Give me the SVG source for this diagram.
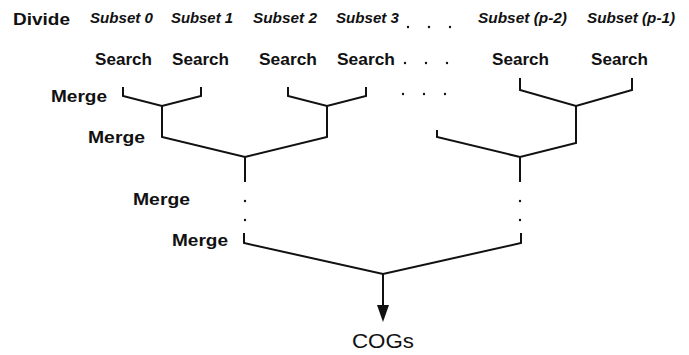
<svg xmlns="http://www.w3.org/2000/svg" width="689" height="355" viewBox="0 0 689 355">
<style>
.lbl{font-family:"Liberation Sans",Arial,sans-serif;font-weight:bold;fill:#111}
.big{font-size:16.5px}
.sub{font-size:14px;font-style:italic}
.cog{font-family:"Liberation Sans",Arial,sans-serif;font-size:21px;fill:#111}
.ln{fill:none;stroke:#111;stroke-width:2;stroke-linejoin:miter}
.dot{fill:#111}
</style>
<defs>
<marker id="arr" viewBox="0 0 17 12" refX="0" refY="6" markerWidth="17" markerHeight="12" markerUnits="userSpaceOnUse" orient="auto">
<path d="M0,0 L17,6 L0,12 Z" fill="#111"/>
</marker>
</defs>
<rect width="689" height="355" fill="#fff"/>
<g id="divide"><text class="lbl big" x="13" y="25" textLength="57" lengthAdjust="spacingAndGlyphs">Divide</text></g>
<g id="subset0"><text class="lbl sub" x="90" y="23" textLength="63" lengthAdjust="spacingAndGlyphs">Subset 0</text></g>
<g id="subset1"><text class="lbl sub" x="171" y="23" textLength="62" lengthAdjust="spacingAndGlyphs">Subset 1</text></g>
<g id="subset2"><text class="lbl sub" x="253" y="23" textLength="64" lengthAdjust="spacingAndGlyphs">Subset 2</text></g>
<g id="subset3"><text class="lbl sub" x="336" y="23" textLength="63" lengthAdjust="spacingAndGlyphs">Subset 3</text></g>
<g id="subsetp2"><text class="lbl sub" x="478" y="23" textLength="89" lengthAdjust="spacingAndGlyphs">Subset (p-2)</text></g>
<g id="subsetp1"><text class="lbl sub" x="587" y="23" textLength="88" lengthAdjust="spacingAndGlyphs">Subset (p-1)</text></g>
<g id="search0"><text class="lbl big" x="95" y="65" textLength="57" lengthAdjust="spacingAndGlyphs">Search</text></g>
<g id="search1"><text class="lbl big" x="172" y="65" textLength="57" lengthAdjust="spacingAndGlyphs">Search</text></g>
<g id="search2"><text class="lbl big" x="259" y="65" textLength="58" lengthAdjust="spacingAndGlyphs">Search</text></g>
<g id="search3"><text class="lbl big" x="337" y="65" textLength="58" lengthAdjust="spacingAndGlyphs">Search</text></g>
<g id="search4"><text class="lbl big" x="492" y="65" textLength="57" lengthAdjust="spacingAndGlyphs">Search</text></g>
<g id="search5"><text class="lbl big" x="591" y="65" textLength="57" lengthAdjust="spacingAndGlyphs">Search</text></g>
<g id="merge1"><text class="lbl big" x="51" y="102" textLength="56" lengthAdjust="spacingAndGlyphs">Merge</text></g>
<g id="merge2"><text class="lbl big" x="88" y="143" textLength="57" lengthAdjust="spacingAndGlyphs">Merge</text></g>
<g id="merge3"><text class="lbl big" x="133" y="205" textLength="57" lengthAdjust="spacingAndGlyphs">Merge</text></g>
<g id="merge4"><text class="lbl big" x="172" y="246" textLength="56" lengthAdjust="spacingAndGlyphs">Merge</text></g>
<g id="cogs"><text class="cog" x="352" y="348" textLength="62" lengthAdjust="spacingAndGlyphs">COGs</text></g>
<g id="ellipses">
<circle class="dot" cx="408" cy="27" r="1.2"/><circle class="dot" cx="429" cy="27" r="1.2"/><circle class="dot" cx="450" cy="27" r="1.2"/>
<circle class="dot" cx="405" cy="63" r="1.2"/><circle class="dot" cx="426" cy="63" r="1.2"/><circle class="dot" cx="447" cy="63" r="1.2"/>
<circle class="dot" cx="403" cy="94" r="1.2"/><circle class="dot" cx="424" cy="94" r="1.2"/><circle class="dot" cx="445" cy="94" r="1.2"/>
<circle class="dot" cx="245" cy="201" r="1.2"/><circle class="dot" cx="245" cy="220" r="1.2"/>
<circle class="dot" cx="520" cy="201" r="1.2"/><circle class="dot" cx="520" cy="220" r="1.2"/>
</g>
<g id="connectors">
<path class="ln" d="M123,87 V96 L162,106 L201,96 V87"/>
<path class="ln" d="M288,87 V96 L327,106 L366,96 V87"/>
<path class="ln" d="M520,78 V90 L576,106 L632,90 V78"/>
<path class="ln" d="M162,106 V137 L245,157 L327,137 V106"/>
<path class="ln" d="M437,130 V137 L520,157 L576,143 V106"/>
<path class="ln" d="M245,157 V182"/>
<path class="ln" d="M520,157 V182"/>
<path class="ln" d="M244,233 V243 L383,274 L521,243 V233"/>
<path class="ln" d="M383,274 V305" marker-end="url(#arr)"/>
</g>
</svg>
